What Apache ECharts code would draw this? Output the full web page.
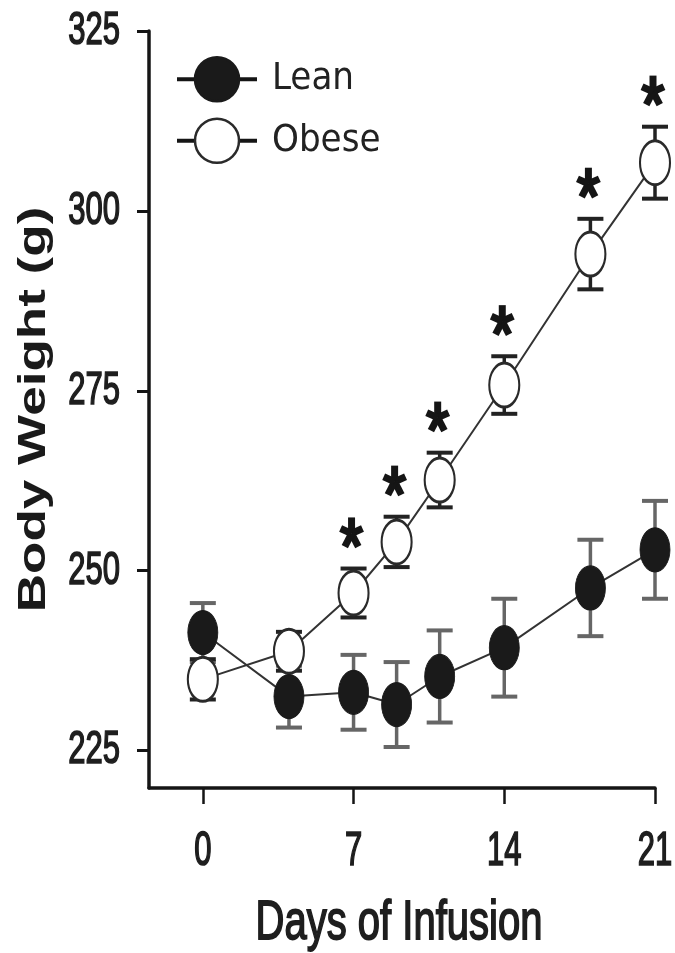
<!DOCTYPE html>
<html>
<head>
<meta charset="utf-8">
<script src="https://cdn.jsdelivr.net/npm/echarts@6/dist/echarts.min.js"></script>
<style>
  html, body { margin: 0; padding: 0; background: #ffffff; }
  #chart { width: 675px; height: 953px; }
</style>
</head>
<body>
<div id="chart"></div>
<script>
// Days of infusion at which body weight was measured
const days = [0, 4, 7, 9, 11, 14, 18, 21];

// Lean group: mean body weight (g) and SEM
const leanMean = [241.4, 232.5, 233.1, 231.4, 235.3, 239.3, 247.6, 252.9];
const leanSem  = [4.1, 4.3, 5.2, 5.9, 6.4, 6.8, 6.7, 6.8];

// Obese group: mean body weight (g) and SEM
const obeseMean = [234.9, 238.8, 246.9, 254.0, 262.6, 275.8, 294.0, 306.7];
const obeseSem  = [2.8, 2.7, 3.4, 3.5, 3.8, 4.0, 4.9, 5.0];

// 1 = significant difference between groups (asterisk)
const significant = [0, 0, 1, 1, 1, 1, 1, 1];

// Axis tick values and titles
const xTicks = [0, 7, 14, 21];
const yTicks = [225, 250, 275, 300, 325];
const xTitle = 'Days of Infusion';
const yTitle = 'Body Weight (g)';

const SANS = '"Liberation Sans", Arial, sans-serif';
const CONDENSED = '"DejaVu Sans Condensed", "Liberation Sans", sans-serif';
const ELLIPSE = 'path://M15,0 A15,22 0 0 1 30,22 A15,22 0 0 1 15,44 A15,22 0 0 1 0,22 A15,22 0 0 1 15,0 Z';

const X_MIN = -2.5, Y_MIN = 219.8;

function makeErrorBars(color, withStars) {
  return function (params, api) {
    const x = api.value(0), m = api.value(1), e = api.value(2);
    const top = api.coord([x, m + e]);
    const bot = api.coord([x, m - e]);
    const cap = 13;
    const children = [
      { type: 'line', shape: { x1: top[0], y1: top[1], x2: bot[0], y2: bot[1] },
        style: { stroke: color, lineWidth: 3.5 } },
      { type: 'line', shape: { x1: top[0] - cap, y1: top[1], x2: top[0] + cap, y2: top[1] },
        style: { stroke: color, lineWidth: 4 } },
      { type: 'line', shape: { x1: bot[0] - cap, y1: bot[1], x2: bot[0] + cap, y2: bot[1] },
        style: { stroke: color, lineWidth: 4 } }
    ];
    if (withStars && api.value(3)) {
      // five-armed asterisk above the upper error cap
      const cx = top[0] - 2, cy = top[1] - 35, r = 11.5, sy = 1.4;
      for (let k = 0; k < 5; k++) {
        const a = -Math.PI / 2 + k * 2 * Math.PI / 5;
        children.push({
          type: 'line',
          shape: { x1: cx, y1: cy, x2: cx + r * Math.cos(a), y2: cy + r * Math.sin(a) * sy },
          style: { stroke: '#151515', lineWidth: 7 }
        });
      }
    }
    return { type: 'group', children: children };
  };
}

const chart = echarts.init(document.getElementById('chart'), null, { renderer: 'canvas' });

chart.setOption({
  animation: false,
  backgroundColor: '#ffffff',
  grid: { left: 149, right: 20, top: 31, bottom: 165, outerBoundsMode: 'none', containLabel: false },
  legend: {
    left: 175,
    top: 56,
    padding: 0,
    orient: 'vertical',
    itemWidth: 80,
    itemHeight: 55,
    itemGap: 15,
    symbolKeepAspect: true,
    selectedMode: false,
    data: ['Lean', 'Obese'],
    itemStyle: { borderWidth: 2.5 },
    lineStyle: { width: 4, color: '#151515' },
    textStyle: { fontFamily: CONDENSED, fontSize: 38, color: '#222', padding: [0, 0, 0, 10] }
  },
  xAxis: {
    type: 'value',
    min: X_MIN,
    max: 21,
    axisLine: { show: true, onZero: false, lineStyle: { color: '#151515', width: 3.5 } },
    axisTick: { show: true, length: 16, customValues: xTicks, lineStyle: { color: '#151515', width: 2.5 } },
    axisLabel: { show: false, customValues: xTicks },
    splitLine: { show: false }
  },
  yAxis: {
    type: 'value',
    min: Y_MIN,
    max: 325,
    axisLine: { show: true, onZero: false, lineStyle: { color: '#151515', width: 3.5 } },
    axisTick: { show: true, length: 12, customValues: yTicks, lineStyle: { color: '#151515', width: 3 } },
    axisLabel: { show: false, customValues: yTicks },
    splitLine: { show: false }
  },
  series: [
    {
      name: 'LeanSEM',
      type: 'custom',
      z: 1,
      renderItem: makeErrorBars('#666666', false),
      encode: { x: 0, y: 1 },
      data: days.map((d, i) => [d, leanMean[i], leanSem[i]])
    },
    {
      name: 'ObeseSEM',
      type: 'custom',
      z: 1,
      renderItem: makeErrorBars('#222222', true),
      encode: { x: 0, y: 1 },
      data: days.map((d, i) => [d, obeseMean[i], obeseSem[i], significant[i]])
    },
    {
      name: 'Obese',
      type: 'line',
      z: 2,
      data: days.map((d, i) => [d, obeseMean[i]]),
      symbol: ELLIPSE,
      symbolSize: [30, 44],
      lineStyle: { color: '#333333', width: 2 },
      itemStyle: { color: '#ffffff', borderColor: '#2a2a2a', borderWidth: 2.5 }
    },
    {
      name: 'Lean',
      type: 'line',
      z: 3,
      data: days.map((d, i) => [d, leanMean[i]]),
      symbol: ELLIPSE,
      symbolSize: [30, 44],
      lineStyle: { color: '#333333', width: 2 },
      itemStyle: { color: '#1a1a1a', borderColor: '#1a1a1a', borderWidth: 1 }
    }
  ]
});

// Tick labels and axis titles: tall, narrow lettering placed from the axis scales
const INK = '#1e1e1e';
const graphics = [];
yTicks.forEach(function (v) {
  const p = chart.convertToPixel({ gridIndex: 0 }, [X_MIN, v]);
  graphics.push({
    type: 'text', x: p[0] - 29, y: p[1], scaleY: 1.5, z: 10,
    style: { text: String(v), fontFamily: SANS, fontSize: 31, fill: INK, stroke: INK, lineWidth: 1.1,
             align: 'right', verticalAlign: 'middle' }
  });
});
xTicks.forEach(function (v) {
  const p = chart.convertToPixel({ gridIndex: 0 }, [v, Y_MIN]);
  graphics.push({
    type: 'text', x: p[0], y: p[1] + 64, scaleY: 1.55, z: 10,
    style: { text: String(v), fontFamily: SANS, fontSize: 31, fill: INK, stroke: INK, lineWidth: 1.1,
             align: 'center', verticalAlign: 'middle' }
  });
});
const origin = chart.convertToPixel({ gridIndex: 0 }, [X_MIN, Y_MIN]);
const farCorner = chart.convertToPixel({ gridIndex: 0 }, [21, 325]);
graphics.push({
  type: 'text', x: (origin[0] + farCorner[0]) / 2 - 3, y: origin[1] + 136, scaleY: 1.38, z: 10,
  style: { text: xTitle, fontFamily: SANS, fontSize: 40, fill: INK, stroke: INK, lineWidth: 1.3,
           align: 'center', verticalAlign: 'middle' }
});
graphics.push({
  type: 'text', x: 34, y: (origin[1] + farCorner[1]) / 2, rotation: Math.PI / 2, scaleX: 1.36, z: 10,
  style: { text: yTitle, fontFamily: SANS, fontWeight: 'bold', fontSize: 39, fill: '#1a1a1a',
           align: 'center', verticalAlign: 'middle' }
});
chart.setOption({ graphic: graphics });
</script>
</body>
</html>
